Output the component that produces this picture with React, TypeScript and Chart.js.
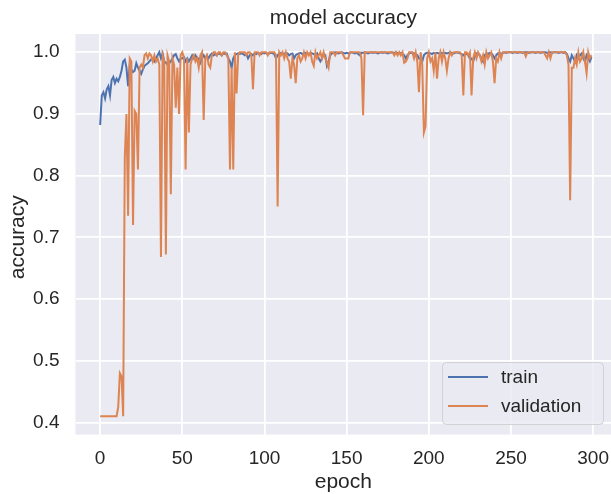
import React, { useEffect, useRef } from "react";
import { Chart, registerables } from "chart.js";

Chart.register(...registerables);

// ---- data ----
const trainAcc: number[] = [
  0.882, 0.93, 0.935, 0.925, 0.94, 0.945, 0.93, 0.955, 0.96, 0.95,
  0.957, 0.953, 0.96, 0.97, 0.985, 0.988, 0.975, 0.945, 0.98, 0.972,
  0.968, 0.97, 0.982, 0.975, 0.97, 0.965, 0.972, 0.978, 0.98, 0.982,
  0.985, 0.988, 0.99, 0.985, 0.99, 0.995, 1.0, 0.99, 0.998, 0.985,
  0.983, 0.98, 0.982, 0.985, 0.99, 0.995, 0.997, 0.99, 0.985, 0.99,
  0.99, 0.992, 0.985, 0.99, 0.985, 0.99, 0.995, 0.99, 0.995, 0.99,
  0.99, 0.983, 0.99, 0.995, 0.99, 0.995, 0.99, 0.995, 0.998, 0.995,
  0.997, 0.995, 0.998, 0.997, 0.995, 0.998, 0.997, 0.998, 0.99, 0.985,
  0.975, 0.99, 0.995, 0.997, 0.998, 0.997, 0.998, 0.997, 0.995, 0.997,
  0.99, 0.995, 0.997, 0.995, 0.998, 0.997, 0.999, 0.998, 0.997, 0.999,
  0.998, 0.999, 0.997, 0.998, 0.999, 0.998, 0.997, 0.99, 0.995, 0.998,
  0.999, 0.998, 0.997, 0.999, 0.998, 0.995, 0.997, 0.998, 0.99, 0.995,
  0.997, 0.998, 0.999, 0.997, 0.998, 0.999, 0.998, 0.997, 0.999, 0.998,
  0.997, 0.995, 0.998, 0.99, 0.985, 0.99, 0.997, 0.995, 0.978, 0.985,
  0.995, 0.998, 0.999, 1.0, 0.999, 0.998, 0.999, 1.0, 0.999, 0.998,
  0.999, 0.998, 0.999, 1.0, 0.999, 0.998, 0.999, 0.997, 0.995, 0.999,
  0.999, 1.0, 0.999, 0.998, 0.999, 1.0, 0.999, 1.0, 0.999, 0.998,
  0.999, 1.0, 0.999, 1.0, 0.999, 0.998, 0.999, 1.0, 0.999, 0.999,
  1.0, 0.999, 0.998, 0.999, 0.997, 0.995, 0.99, 0.995, 0.998, 0.999,
  0.999, 0.998, 0.997, 0.995, 0.99, 0.99, 0.985, 0.995, 0.998, 0.999,
  0.999, 0.998, 0.997, 0.999, 0.998, 0.999, 0.998, 0.997, 0.999, 0.998,
  0.999, 0.998, 0.999, 1.0, 0.999, 0.998, 0.999, 1.0, 0.999, 0.998,
  0.997, 0.995, 0.998, 0.997, 0.995, 0.99, 0.99, 0.985, 0.995, 0.998,
  0.997, 0.995, 0.99, 0.985, 0.995, 0.998, 0.997, 0.999, 0.998, 0.995,
  0.99, 0.995, 0.998, 0.999, 0.997, 0.999, 1.0, 0.999, 1.0, 1.0,
  1.0, 0.999, 1.0, 1.0, 0.999, 1.0, 1.0, 0.999, 1.0, 1.0,
  1.0, 0.999, 1.0, 1.0, 1.0, 0.999, 1.0, 1.0, 0.999, 1.0,
  1.0, 1.0, 0.999, 1.0, 1.0, 0.999, 1.0, 1.0, 1.0, 0.999,
  1.0, 1.0, 0.999, 1.0, 0.997, 0.99, 0.985, 0.995, 0.99, 0.985,
  0.995, 0.99, 0.995, 0.998, 0.99, 0.985, 0.995, 0.99, 0.985, 0.992,
];

const valAcc: number[] = [
  0.41, 0.41, 0.41, 0.41, 0.41, 0.41, 0.41, 0.41, 0.41, 0.41,
  0.41, 0.425, 0.48, 0.475, 0.41, 0.83, 0.9, 0.735, 0.99, 0.985,
  0.72, 0.905, 0.9, 0.81, 0.975, 0.98, 0.975, 0.995, 0.998, 0.99,
  0.998, 0.995, 0.985, 0.995, 0.985, 0.99, 0.98, 0.668, 0.995, 0.985,
  0.672, 0.995, 0.985, 0.77, 0.99, 0.98, 0.91, 0.975, 0.9, 0.995,
  1.0, 0.99, 0.81, 0.99, 0.87, 0.98, 0.99, 0.995, 0.985, 0.99,
  0.975, 0.995, 1.0, 0.89, 0.99, 0.995, 0.98, 0.975, 0.995, 1.0,
  1.0, 0.995, 1.0, 1.0, 0.995, 1.0, 1.0, 0.995, 0.99, 0.81,
  0.975, 0.81, 1.0, 0.933, 0.995, 1.0, 1.0, 1.0, 1.0, 0.995,
  1.0, 1.0, 0.995, 0.94, 1.0, 1.0, 1.0, 0.995, 1.0, 1.0,
  1.0, 1.0, 0.995, 1.0, 1.0, 1.0, 1.0, 0.995, 0.75, 1.0,
  0.995, 1.0, 0.99, 1.0, 0.99, 0.985, 0.957, 0.99, 0.98, 0.95,
  0.99, 0.995, 0.985, 0.99, 1.0, 0.99, 1.0, 0.995, 1.0, 0.985,
  0.978, 1.0, 0.99, 0.995, 1.0, 0.99, 1.0, 0.99, 0.983, 0.975,
  1.0, 1.0, 1.0, 0.995, 1.0, 1.0, 1.0, 1.0, 0.995, 0.99,
  0.99, 0.99, 1.0, 1.0, 1.0, 1.0, 1.0, 1.0, 1.0, 0.99,
  0.898, 1.0, 1.0, 1.0, 1.0, 1.0, 1.0, 1.0, 1.0, 1.0,
  1.0, 1.0, 1.0, 1.0, 1.0, 1.0, 1.0, 1.0, 1.0, 0.995,
  1.0, 0.995, 1.0, 0.995, 1.0, 0.983, 0.985, 0.99, 1.0, 1.0,
  1.0, 0.99, 1.0, 0.985, 0.935, 1.0, 0.98, 0.87, 0.88, 0.99,
  1.0, 0.985, 0.99, 0.97, 1.0, 0.957, 0.99, 1.0, 0.985, 1.0,
  0.99, 0.97, 0.99, 1.0, 0.995, 1.0, 1.0, 1.0, 1.0, 1.0,
  0.995, 0.93, 1.0, 1.0, 0.995, 1.0, 0.93, 0.99, 1.0, 0.99,
  1.0, 0.995, 0.985, 0.995, 0.98, 1.0, 0.99, 0.995, 1.0, 0.985,
  0.95, 0.99, 0.985, 1.0, 0.99, 1.0, 1.0, 1.0, 1.0, 1.0,
  1.0, 1.0, 1.0, 1.0, 1.0, 1.0, 1.0, 1.0, 1.0, 0.993,
  1.0, 1.0, 1.0, 1.0, 1.0, 1.0, 1.0, 1.0, 1.0, 1.0,
  1.0, 0.995, 0.99, 1.0, 0.99, 1.0, 1.0, 1.0, 1.0, 1.0,
  1.0, 1.0, 1.0, 1.0, 0.995, 0.98, 0.76, 0.975, 0.975, 0.99,
  0.98, 1.0, 0.985, 0.99, 1.0, 0.985, 0.966, 1.0, 0.99, 0.995,
];

const xTicks: number[] = [0, 50, 100, 150, 200, 250, 300];
const yTicks: number[] = [0.4, 0.5, 0.6, 0.7, 0.8, 0.9, 1.0];
const seriesLabels: string[] = ["train", "validation"];
const chartTitle = "model accuracy";
const xTitle = "epoch";
const yTitle = "accuracy";

const BLUE = "#4C72B0";
const ORANGE = "#DD8452";
const TEXT = "#262626";
const FONT = "'Liberation Sans', Arial, Helvetica, sans-serif";

const toPoints = (arr: number[]) => arr.map((v, i) => ({ x: i, y: v }));

const bgPlugin = {
  id: "axesBg",
  beforeDraw(chart: any) {
    const { ctx, chartArea: a } = chart;
    ctx.save();
    ctx.fillStyle = "#EAEAF2";
    ctx.fillRect(a.left, a.top, a.right - a.left, a.bottom - a.top);
    ctx.restore();
  },
};

const overlayPlugin = {
  id: "overlay",
  afterDraw(chart: any) {
    const { ctx, chartArea: a } = chart;
    const xs = chart.scales.x;
    ctx.save();
    ctx.fillStyle = TEXT;
    ctx.textAlign = "center";
    ctx.textBaseline = "middle";
    // title
    ctx.font = `21px ${FONT}`;
    ctx.fillText(chartTitle, xs.getPixelForValue(148), 18);
    // x axis title
    ctx.fillText(xTitle, xs.getPixelForValue(148), 482);
    // y axis title
    ctx.save();
    ctx.translate(18, (a.top + a.bottom) / 2 + 3);
    ctx.rotate(-Math.PI / 2);
    ctx.fillText(yTitle, 0, 0);
    ctx.restore();

    // legend
    const bx = 442, by = 362, bw = 161, bh = 62;
    ctx.beginPath();
    ctx.roundRect(bx + 0.5, by + 0.5, bw, bh, 4);
    ctx.fillStyle = "rgba(234,234,242,0.8)";
    ctx.fill();
    ctx.strokeStyle = "rgba(204,204,204,0.8)";
    ctx.lineWidth = 1;
    ctx.stroke();
    const colors = [BLUE, ORANGE];
    const rows = [377, 406];
    ctx.font = `19px ${FONT}`;
    ctx.textAlign = "left";
    ctx.textBaseline = "middle";
    seriesLabels.forEach((lab, i) => {
      ctx.strokeStyle = colors[i];
      ctx.lineWidth = 2;
      ctx.beginPath();
      ctx.moveTo(448, rows[i]);
      ctx.lineTo(488, rows[i]);
      ctx.stroke();
      ctx.fillStyle = TEXT;
      ctx.fillText(lab, 501, rows[i] + 1);
    });
    ctx.restore();
  },
};

export default function App() {
  const ref = useRef<HTMLCanvasElement | null>(null);

  useEffect(() => {
    if (!ref.current) return;
    const chart = new Chart(ref.current, {
      type: "line",
      data: {
        datasets: [
          {
            label: seriesLabels[0],
            data: toPoints(trainAcc),
            borderColor: BLUE,
            backgroundColor: BLUE,
            borderWidth: 2,
            pointRadius: 0,
            pointHoverRadius: 0,
            tension: 0,
            order: 1,
          },
          {
            label: seriesLabels[1],
            data: toPoints(valAcc),
            borderColor: ORANGE,
            backgroundColor: ORANGE,
            borderWidth: 2,
            pointRadius: 0,
            pointHoverRadius: 0,
            tension: 0,
            order: 0,
          },
        ],
      },
      options: {
        responsive: false,
        animation: false,
        events: [],
        layout: { autoPadding: false, padding: { top: 34, left: 0, right: 0, bottom: 0 } },
        plugins: {
          legend: { display: false },
          title: { display: false },
          tooltip: { enabled: false },
        },
        scales: {
          x: {
            type: "linear",
            min: -15,
            max: 311.5,
            afterBuildTicks: (s: any) => {
              s.ticks = xTicks.map((v) => ({ value: v }));
            },
            afterFit: (s: any) => {
              s.height = 59.5;
            },
            grid: { color: "#FFFFFF", lineWidth: 1.8, drawTicks: false },
            border: { display: false },
            ticks: {
              color: TEXT,
              font: { size: 19, family: FONT },
              padding: 13,
              maxRotation: 0,
              callback: (v: any) => String(v),
            },
          },
          y: {
            type: "linear",
            min: 0.3805,
            max: 1.0295,
            afterBuildTicks: (s: any) => {
              s.ticks = yTicks.map((v) => ({ value: v }));
            },
            afterFit: (s: any) => {
              s.width = 75.5;
            },
            grid: { color: "#FFFFFF", lineWidth: 1.8, drawTicks: false },
            border: { display: false },
            ticks: {
              color: TEXT,
              font: { size: 19, family: FONT },
              padding: 16,
              callback: (v: any) => Number(v).toFixed(1),
            },
          },
        },
      },
      plugins: [bgPlugin, overlayPlugin],
    });
    return () => chart.destroy();
  }, []);

  return (
    <div
      style={{
        position: "fixed",
        left: 0,
        top: 0,
        width: 611,
        height: 494,
        background: "#FFFFFF",
        overflow: "hidden",
      }}
    >
      <canvas ref={ref} width={622} height={494} style={{ width: 622, height: 494, display: "block" }} />
    </div>
  );
}
